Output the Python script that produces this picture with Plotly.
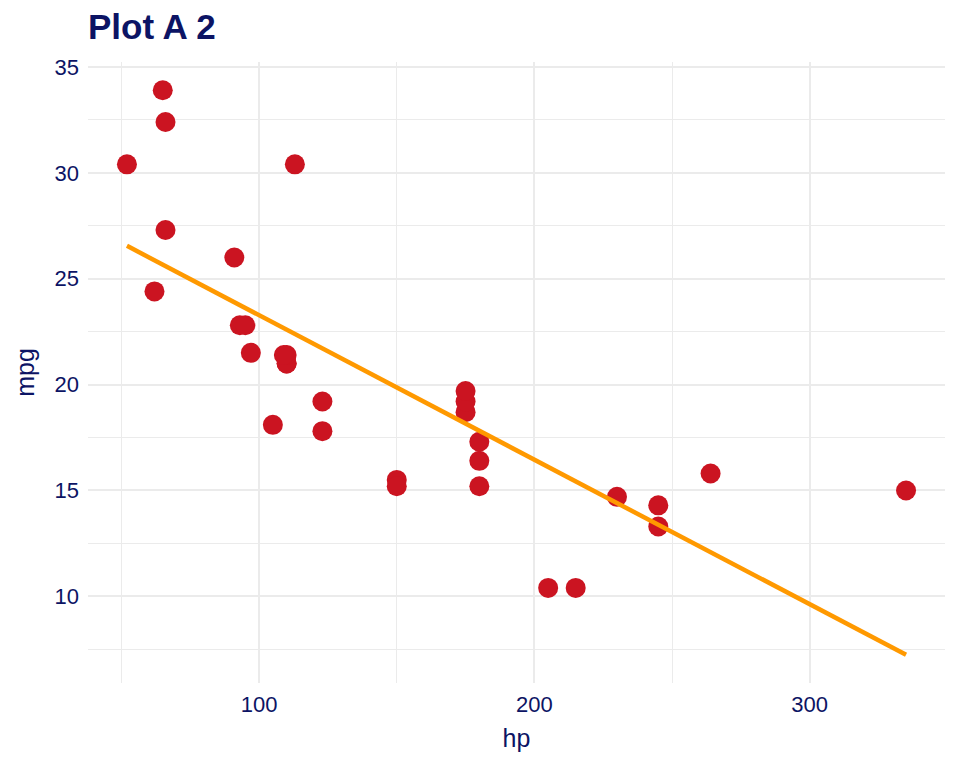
import numpy as np
import plotly.graph_objects as go

hp = [110, 110, 93, 110, 175, 105, 245, 62, 95, 123, 123, 180, 180, 180, 205, 215,
      230, 66, 52, 65, 97, 150, 150, 245, 175, 66, 91, 113, 264, 175, 335, 109]
mpg = [21.0, 21.0, 22.8, 21.4, 18.7, 18.1, 14.3, 24.4, 22.8, 19.2, 17.8, 16.4, 17.3,
       15.2, 10.4, 10.4, 14.7, 32.4, 30.4, 33.9, 21.5, 15.5, 15.2, 13.3, 19.2, 27.3,
       26.0, 30.4, 15.8, 19.7, 15.0, 21.4]

slope, intercept = np.polyfit(hp, mpg, 1)
fx = np.array([min(hp), max(hp)])
fy = intercept + slope * fx

navy = "#0C1464"
fig = go.Figure()
fig.add_trace(go.Scatter(x=hp, y=mpg, mode="markers",
                         marker=dict(color="#CB1421", size=20, line=dict(width=0)),
                         showlegend=False, hoverinfo="skip"))
fig.add_trace(go.Scatter(x=fx, y=fy, mode="lines",
                         line=dict(color="#FF9900", width=4.5),
                         showlegend=False, hoverinfo="skip"))

lo_x, hi_x = min(hp), max(hp)
ex = (hi_x - lo_x) * 0.05
ymin = min(min(mpg), fy.min()); ymax = max(max(mpg), fy.max())
ey = (ymax - ymin) * 0.05

fig.update_layout(
    width=960, height=768,
    paper_bgcolor="white", plot_bgcolor="white",
    margin=dict(l=80, r=23, t=54, b=93),
    font=dict(family="Liberation Sans, Arial, sans-serif", color=navy),
    title=dict(text="<b>Plot A 2</b>", x=80/960, xanchor="left", y=1-19/768, yanchor="middle",
               font=dict(size=35, color=navy)),
    xaxis=dict(range=[lo_x - ex, hi_x + ex], dtick=100, tick0=0,
               showgrid=True, gridcolor="#EBEBEB", gridwidth=2,
               minor=dict(showgrid=True, dtick=50, tick0=0, gridcolor="#EBEBEB", gridwidth=1.2),
               zeroline=False, showline=False, ticks="", ticklabelstandoff=6,
               tickfont=dict(size=22, color=navy),
               title=dict(text="hp", font=dict(size=25, color=navy), standoff=13)),
    yaxis=dict(range=[ymin - ey, ymax + ey], dtick=5, tick0=0,
               showgrid=True, gridcolor="#EBEBEB", gridwidth=2,
               minor=dict(showgrid=True, dtick=2.5, tick0=0, gridcolor="#EBEBEB", gridwidth=1.2),
               zeroline=False, showline=False, ticks="", ticklabelstandoff=8,
               tickfont=dict(size=22, color=navy),
               title=dict(text="mpg", font=dict(size=25, color=navy), standoff=12)),
)
fig.write_html("out.html")
